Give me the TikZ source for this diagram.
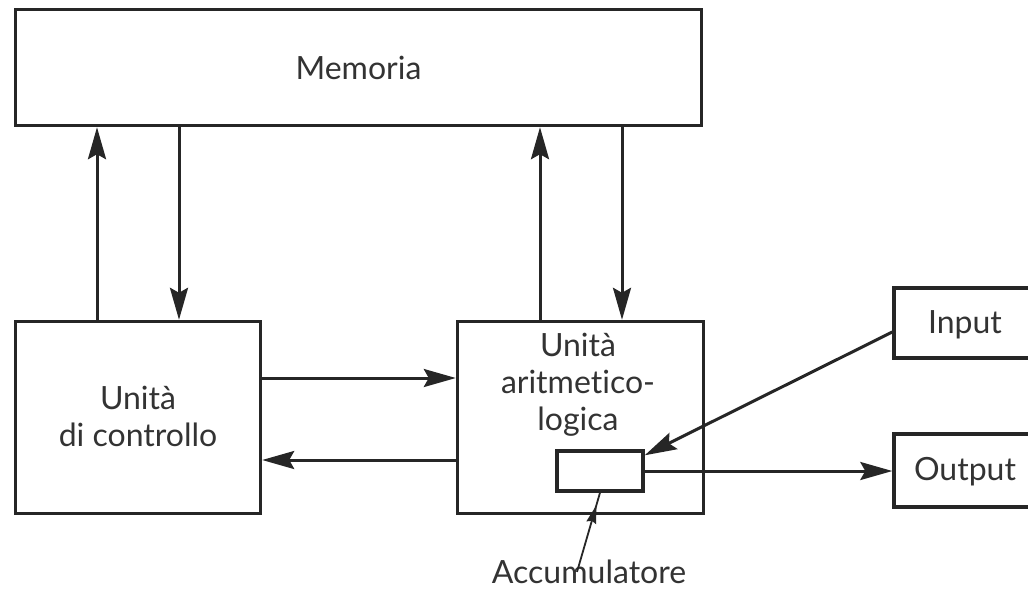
\documentclass[tikz,border=0pt]{standalone}
\usepackage{fontspec}
\setmainfont{Lato}[Ligatures=NoCommon]
\usetikzlibrary{arrows.meta,decorations.markings}
\begin{document}
\begin{tikzpicture}[x=1pt,y=-1pt,
  box/.style={draw=black!85,line width=3.4pt,fill=white,inner sep=0pt},
  txt/.style={font=\fontsize{32}{37}\selectfont,text=black!80,align=center,inner sep=0pt},
  arr/.style={line width=3pt,draw=black!85,-{Stealth[length=32pt,width=18pt,inset=5pt]}},
  thinarr/.style={line width=1.8pt,draw=black!85,
    postaction={decorate,decoration={markings,mark=at position 0.84 with {\arrow{Stealth[length=18pt,width=10pt,inset=2pt]}}}}}]
\clip (0,0) rectangle (1028,590);
\fill[white] (0,0) rectangle (1028,590);
\node[box,minimum width=686pt,minimum height=116pt] (mem) at (358.5,67.5) {};
\node[txt] (memt) at (358.5,68) {Memoria};
\node[box,minimum width=245pt,minimum height=192pt] (ctrl) at (138,417.5) {};
\node[txt] (ctrlt) at (138,416) {Unità\\di controllo};
\node[box,minimum width=246pt,minimum height=192pt] (alu) at (580.5,417.5) {};
\node[txt] (alut) at (578,385) {Unità\\aritmetico-\\logica};
\node[box,minimum width=86pt,minimum height=40pt] (acc) at (600,471) {};
\node[box,minimum width=142pt,minimum height=70pt] (in) at (965,323) {};
\node[txt] (int) at (965,325) {Input};
\node[box,minimum width=142pt,minimum height=73pt] (out) at (965,470.5) {};
\node[txt] (outt) at (965,472) {Output};
\node[txt] (lab) at (589,572) {Accumulatore};
% memory <-> control
\draw[arr] ([xshift=-41pt]ctrl.north) -- ([xshift=-41pt]ctrl.north |- mem.south);
\draw[arr] ([xshift=41pt]ctrl.north |- mem.south) -- ([xshift=41pt]ctrl.north);
% memory <-> ALU
\draw[arr] ([xshift=-40.5pt]alu.north) -- ([xshift=-40.5pt]alu.north |- mem.south);
\draw[arr] ([xshift=41.5pt]alu.north |- mem.south) -- ([xshift=41.5pt]alu.north);
% control <-> ALU
\draw[arr] ([yshift=39.5pt]ctrl.east) -- ([yshift=39.5pt]ctrl.east -| alu.west);
\draw[arr] ([yshift=-42.5pt]alu.west) -- ([yshift=-42.5pt]alu.west -| ctrl.east);
% input / output
\draw[arr] ([yshift=-9pt]in.west) -- ([yshift=-6pt]acc.north east);
\draw[arr] (acc.east) -- (acc.east -| out.west);
% accumulator label
\draw[thinarr] ([xshift=-12pt,yshift=-12pt]lab.north) -- (acc.south);
\end{tikzpicture}
\end{document}
